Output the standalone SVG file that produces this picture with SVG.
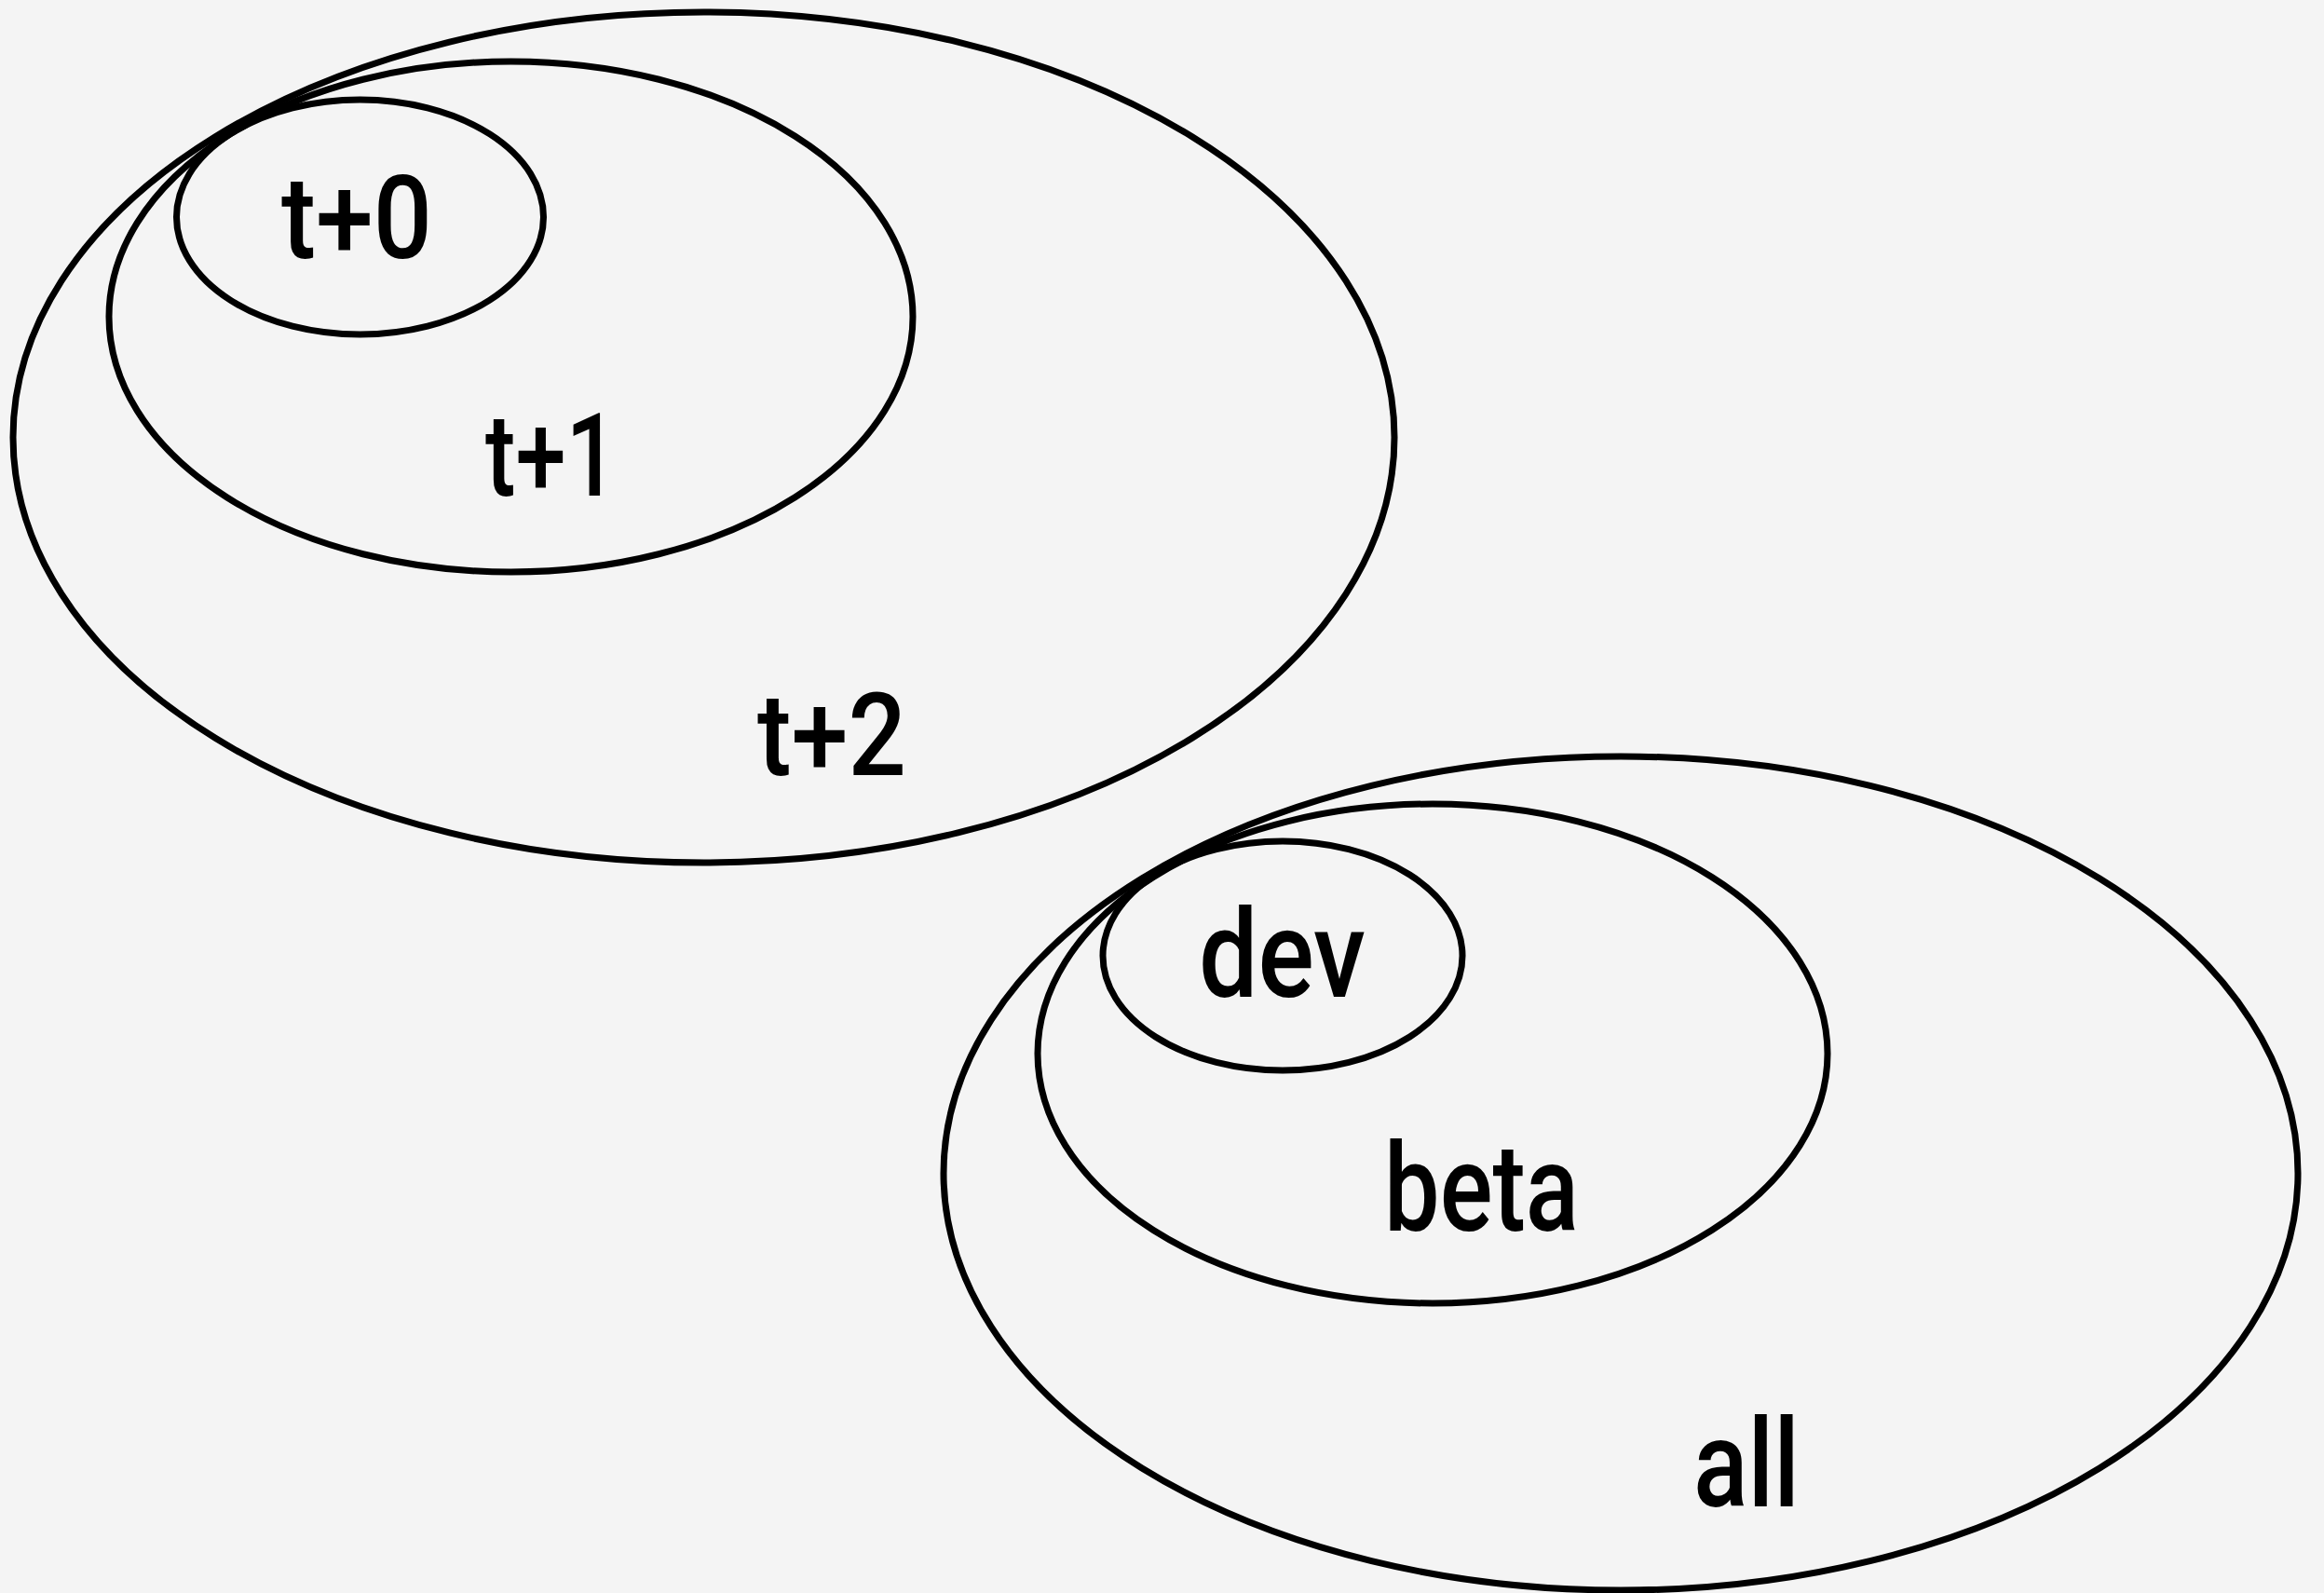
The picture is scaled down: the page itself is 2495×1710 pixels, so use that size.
<svg xmlns="http://www.w3.org/2000/svg" width="2495" height="1710" viewBox="0 0 2495 1710">
<style>
.bg{fill:#f4f4f4}
.set{fill:none;stroke:#000;stroke-width:7}
.lbl{font-family:Roboto,"Liberation Sans",Arial,sans-serif;font-size:124px;fill:#000;font-weight:500}
.lbl2{font-family:Roboto,"Liberation Sans",Arial,sans-serif;font-size:132px;fill:#000;font-weight:500}
</style>
<rect class="bg" x="0" y="0" width="2495" height="1710"/>
<g id="t2"><ellipse class="set" cx="755.5" cy="469.5" rx="741.5" ry="456.5"/><text class="lbl" x="813" y="832" textLength="160" lengthAdjust="spacingAndGlyphs">t+2</text></g>
<g id="t1"><ellipse class="set" cx="548.5" cy="340" rx="431.5" ry="274"/><text class="lbl" x="521" y="532" textLength="142" lengthAdjust="spacingAndGlyphs">t+1</text></g>
<g id="t0"><ellipse class="set" cx="386.5" cy="233" rx="197" ry="126"/><text class="lbl" x="302" y="277" textLength="162" lengthAdjust="spacingAndGlyphs">t+0</text></g>
<g id="all"><ellipse class="set" cx="1740" cy="1259.5" rx="727" ry="447.5"/><text class="lbl2" x="1818" y="1617" textLength="114" lengthAdjust="spacingAndGlyphs">all</text></g>
<g id="beta"><ellipse class="set" cx="1538" cy="1131" rx="424" ry="268"/><text class="lbl2" x="1486" y="1321" textLength="209" lengthAdjust="spacingAndGlyphs">beta</text></g>
<g id="dev"><ellipse class="set" cx="1377" cy="1026" rx="193" ry="123"/><text class="lbl2" x="1287" y="1070" textLength="179" lengthAdjust="spacingAndGlyphs">dev</text></g>
<g id="connectors"></g>
</svg>
